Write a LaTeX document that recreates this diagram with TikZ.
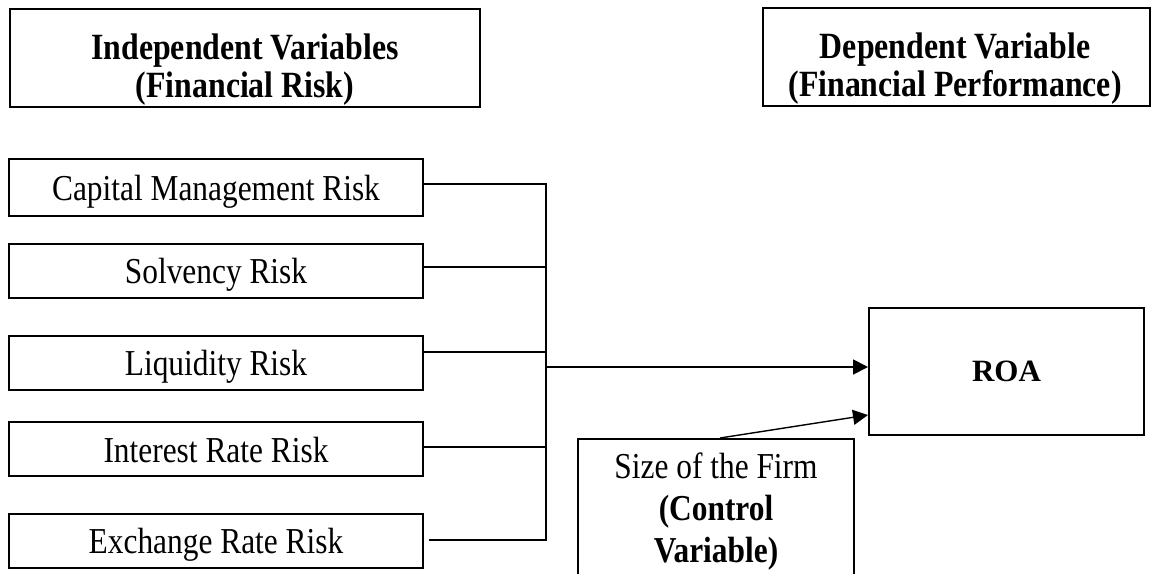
\documentclass[tikz,border=0pt]{standalone}
\usepackage{fontspec}
\setmainfont[FakeStretch=0.86]{Liberation Serif}
\newfontfamily\roafont{Liberation Serif}
\usetikzlibrary{positioning, arrows.meta}
\tikzset{
  riskbox/.style={draw, line width=2pt, minimum width=414pt, minimum height=54pt, inner sep=0pt,
    font=\fontsize{36.5}{38}\selectfont, text height=33pt, text depth=7pt},
  headbox/.style={draw, line width=2pt, minimum height=98pt, inner sep=0pt},
  headtext/.style={align=center, font=\fontsize{37}{38}\selectfont\bfseries},
  link/.style={line width=1.3pt},
  arrow/.style={line width=1.8pt, -{Triangle[length=15pt,width=15pt]}}
}

\begin{document}
\begin{tikzpicture}[x=1pt, y=-1pt, on grid]
  \useasboundingbox (0,0) rectangle (1156,573);

  % headings
  \node[headbox, minimum width=470pt] (indep) at (245,58) {};
  \node[headtext] (indeptext) at (245,70) {Independent Variables\\(Financial Risk)};
  \node[headbox, minimum width=387pt] (dep) at (956.5,56.5) {};
  \node[headtext] (deptext) at (955,69) {Dependent Variable\\(Financial Performance)};

  % risks
  \node[riskbox, minimum height=57pt] (cap) at (216,187.5) {Capital Management Risk};
  \node[riskbox] (solv) [below=83pt of cap] {Solvency Risk};
  \node[riskbox] (liq) [below=92pt of solv] {Liquidity Risk};
  \node[riskbox] (inter) [below=86.5pt of liq] {Interest Rate Risk};
  \node[riskbox] (exch) [below=91.5pt of inter] {Exchange Rate Risk};

  \node[draw, line width=2pt, minimum width=275pt, minimum height=127pt,
    font=\roafont\bfseries\fontsize{31}{31}\selectfont] (roa) at (1006.5,371.5) {ROA};
  \node[draw, line width=2pt, minimum width=276pt, minimum height=146pt, anchor=north,
    align=center, font=\fontsize{36.5}{42}\selectfont] (size) at (716,438)
    {Size of the Firm\\\textbf{(Control}\\\textbf{Variable)}};

  \coordinate (bus) at (546,184);
  \draw[link] ([yshift=3.5pt]cap.east) -- ([yshift=3.5pt]cap.east -| bus)
    -- ([yshift=0.5pt]exch.east -| bus) -- ([xshift=5pt,yshift=0.5pt]exch.east);
  \foreach \n/\s in {solv/3.5, liq/10.5, inter/2}
    \draw[link] ([yshift=\s pt]\n.east) -- ([yshift=\s pt]\n.east -| bus);

  \draw[arrow] ([yshift=4.5pt]roa.west -| bus) -- ([yshift=4.5pt]roa.west);
  \draw[arrow, line width=1.4pt] ([xshift=4pt]size.north) -- ([yshift=-43.5pt]roa.west);
\end{tikzpicture}
\end{document}
